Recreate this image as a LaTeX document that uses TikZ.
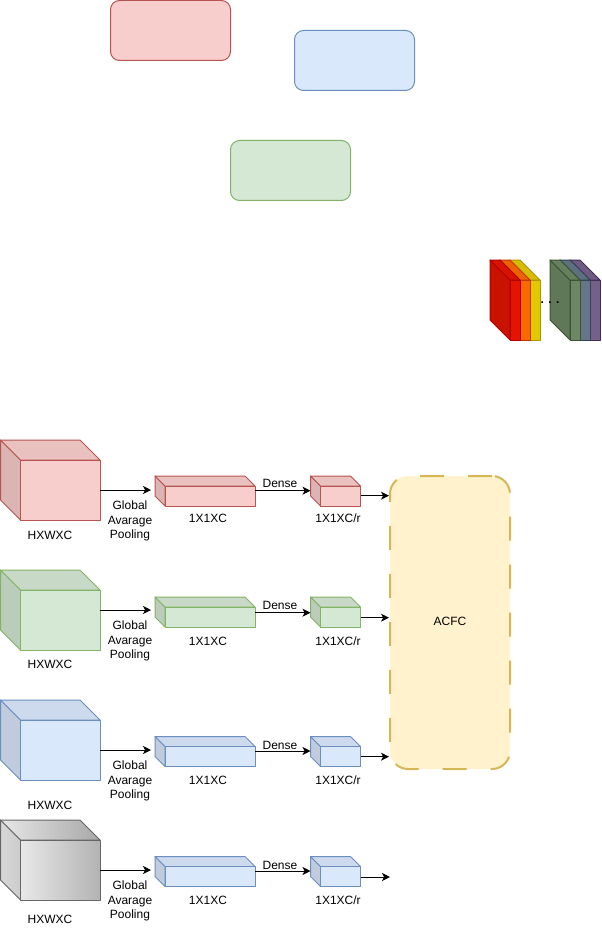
\documentclass[tikz,border=0pt]{standalone}
\usepackage{fontspec}
\setmainfont{Liberation Sans}
\usetikzlibrary{arrows.meta}
\definecolor{redF}{HTML}{F8CECC}\definecolor{redS}{HTML}{B85450}
\definecolor{grnF}{HTML}{D5E8D4}\definecolor{grnS}{HTML}{82B366}
\definecolor{bluF}{HTML}{DAE8FC}\definecolor{bluS}{HTML}{6C8EBF}
\definecolor{ylwF}{HTML}{FFF2CC}\definecolor{ylwS}{HTML}{D6B656}
\definecolor{gryA}{HTML}{F5F5F5}\definecolor{gryM}{HTML}{E8E8E8}
\definecolor{gryB}{HTML}{B3B3B3}\definecolor{gryS}{HTML}{666666}
\definecolor{s1F}{HTML}{E51400}\definecolor{s1S}{HTML}{B20000}
\definecolor{s2F}{HTML}{FA6800}\definecolor{s2S}{HTML}{C73500}
\definecolor{s3F}{HTML}{E3C800}\definecolor{s3S}{HTML}{B09500}
\definecolor{s4F}{HTML}{6D8764}\definecolor{s4S}{HTML}{3A5431}
\definecolor{s5F}{HTML}{647687}\definecolor{s5S}{HTML}{314354}
\definecolor{s6F}{HTML}{76608A}\definecolor{s6S}{HTML}{432D57}
\tikzset{
  arr/.style={draw=black, line width=0.75pt, -{Stealth[length=6pt,width=6pt,inset=1.6pt]}},
  lbl/.style={inner sep=0pt, text=black},
  bbox/.style={inner sep=0pt, outer sep=0pt, anchor=north west},
  cubeline/.style={line width=0.75pt, line join=round},
  topbox/.style={line width=0.75pt, rounded corners=6.75pt},
}
% #1 x, #2 y, #3 w, #4 h, #5 depth, #6 fill, #7 stroke, #8 name
\newcommand{\drawcube}[8]{%
  \node[bbox, minimum width=#3*0.75pt, minimum height=#4*0.75pt] (#8) at (#1,#2) {};
  \filldraw[cubeline, fill=#6!88!black, draw=#7] (#1,#2) -- ({#1+#5},{#2+#5}) -- ({#1+#5},{#2+#4}) -- (#1,{#2+#4-#5}) -- cycle;
  \filldraw[cubeline, fill=#6!94!black, draw=#7] (#1,#2) -- ({#1+#3-#5},#2) -- ({#1+#3},{#2+#5}) -- ({#1+#5},{#2+#5}) -- cycle;
  \filldraw[cubeline, fill=#6, draw=#7] ({#1+#5},{#2+#5}) rectangle ({#1+#3},{#2+#4});
}
\begin{document}
\begin{tikzpicture}[x=0.75pt, y=-0.75pt, font=\fontsize{9}{10.9}\selectfont]
\useasboundingbox (0,0) rectangle (601,941);
% top rounded rectangles
\node[bbox, topbox, draw=redS, fill=redF, minimum width=120*0.75pt, minimum height=60*0.75pt] (rr) at (110.5,0.5) {};
\node[bbox, topbox, draw=bluS, fill=bluF, minimum width=120*0.75pt, minimum height=60*0.75pt] (br) at (294.5,30.5) {};
\node[bbox, topbox, draw=grnS, fill=grnF, minimum width=120*0.75pt, minimum height=60*0.75pt] (gr) at (230.5,140.5) {};
% colored slabs
\drawcube{510}{260}{30}{80}{20}{s3F}{s3S}{sl3}
\drawcube{500}{260}{30}{80}{20}{s2F}{s2S}{sl2}
\drawcube{490}{260}{30}{80}{20}{s1F}{s1S}{sl1}
\drawcube{570}{260}{30}{80}{20}{s6F}{s6S}{sl6}
\drawcube{560}{260}{30}{80}{20}{s5F}{s5S}{sl5}
\drawcube{550}{260}{30}{80}{20}{s4F}{s4S}{sl4}
\node[lbl, anchor=base] (dots) at (550,303) {\bfseries . . .};
% ACFC
\node[draw=ylwS, fill=ylwF, line width=1.5pt, dash pattern=on 18pt off 18pt, rounded corners=13.5pt,
      minimum width=120*0.75pt, minimum height=293*0.75pt, inner sep=0pt] (acfc) at (450,622.5) {};
\node[lbl] (acfct) at (450,621.7) {ACFC};
% row 1
\drawcube{0.5}{440}{99.5}{80}{20}{redF}{redS}{big1}
\node[lbl] (hx1) at (50,535) {HXWXC};
\drawcube{155}{476}{100}{30}{10}{redF}{redS}{sa1}
\drawcube{310.5}{476}{50}{30}{10}{redF}{redS}{sb1}
\draw[arr, shorten >=3pt] (big1.east |- 0,490) -- (sa1.west |- 0,490);
\node[lbl, align=center] (gap1) at (130,521) {Global\\Avarage\\Pooling};
\draw[arr] (sa1.east |- 0,490.7) -- (sb1.west |- 0,490.7);
\node[lbl] (dl1) at (280,483) {Dense};
\node[lbl] (la1) at (208,518) {1X1XC};
\node[lbl] (lb1) at (338,518) {1X1XC/r};
\draw[arr] (sb1.east |- 0,495.7) -- (acfc.west |- 0,495.7);
% row 2
\drawcube{0.5}{570}{99.5}{80}{20}{grnF}{grnS}{big2}
\node[lbl] (hx2) at (50,664) {HXWXC};
\drawcube{155}{597}{100}{30}{10}{grnF}{grnS}{sa2}
\drawcube{310.5}{597}{50}{30}{10}{grnF}{grnS}{sb2}
\draw[arr, shorten >=3pt] (big2.east |- 0,610) -- (sa2.west |- 0,610);
\node[lbl, align=center] (gap2) at (130,641) {Global\\Avarage\\Pooling};
\draw[arr] (sa2.east |- 0,612.7) -- (sb2.west |- 0,612.7);
\node[lbl] (dl2) at (280,605) {Dense};
\node[lbl] (la2) at (208,641.7) {1X1XC};
\node[lbl] (lb2) at (338,641.7) {1X1XC/r};
\draw[arr] (sb2.east |- 0,617.7) -- (acfc.west |- 0,617.7);
% row 3
\drawcube{0.5}{700}{99.5}{80}{20}{bluF}{bluS}{big3}
\node[lbl] (hx3) at (50,805) {HXWXC};
\drawcube{155}{736.5}{100}{30}{10}{bluF}{bluS}{sa3}
\drawcube{310.5}{736.5}{50}{30}{10}{bluF}{bluS}{sb3}
\draw[arr, shorten >=3pt] (big3.east |- 0,750) -- (sa3.west |- 0,750);
\node[lbl, align=center] (gap3) at (130,781) {Global\\Avarage\\Pooling};
\draw[arr] (sa3.east |- 0,751) -- (sb3.west |- 0,751);
\node[lbl] (dl3) at (280,745) {Dense};
\node[lbl] (la3) at (208,780) {1X1XC};
\node[lbl] (lb3) at (338,780) {1X1XC/r};
\draw[arr] (sb3.east |- 0,756.7) -- (acfc.west |- 0,756.7);
% row 4 (gray gradient cube)
\node[bbox, minimum width=99.5*0.75pt, minimum height=80*0.75pt] (big4) at (0.5,820) {};
\path[cubeline, draw=gryS, left color=gryA!88!black, right color=gryM!88!black] (0.5,820) -- (20.5,840) -- (20.5,900) -- (0.5,880) -- cycle;
\path[cubeline, draw=gryS, left color=gryA!94!black, right color=gryB!94!black] (0.5,820) -- (80,820) -- (100,840) -- (20.5,840) -- cycle;
\path[cubeline, draw=gryS, left color=gryM, right color=gryB] (20.5,840) rectangle (100,900);
\node[lbl] (hx4) at (50,919) {HXWXC};
\drawcube{155}{856.5}{100}{30}{10}{bluF}{bluS}{sa4}
\drawcube{310.5}{856.5}{50}{30}{10}{bluF}{bluS}{sb4}
\draw[arr, shorten >=3pt] (big4.east |- 0,870) -- (sa4.west |- 0,870);
\node[lbl, align=center] (gap4) at (130,901) {Global\\Avarage\\Pooling};
\draw[arr] (sa4.east |- 0,871) -- (sb4.west |- 0,871);
\node[lbl] (dl4) at (280,865) {Dense};
\node[lbl] (la4) at (208,900) {1X1XC};
\node[lbl] (lb4) at (338,900) {1X1XC/r};
\coordinate (end4) at (390,877);
\draw[arr] (sb4.east |- 0,877) -- (end4);
\end{tikzpicture}
\end{document}
